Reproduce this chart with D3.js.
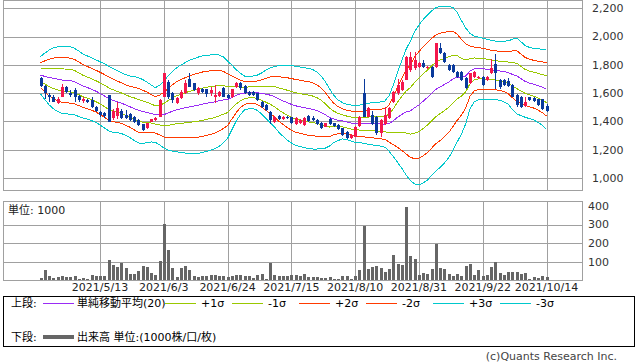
<!DOCTYPE html>
<html>
<head>
<meta charset="utf-8">
<script src="https://cdn.jsdelivr.net/npm/d3@7"></script>
<style>
body { margin: 0; background: #fff; }
text { font-family: "DejaVu Sans", "Noto Sans CJK JP", sans-serif; font-size: 11px; }
</style>
</head>
<body>
<div id="chart"></div>
<script>

// daily candles, 2021/4/19 .. 2021/10/14 (one entry per trading day)
var open = [1705,1651,1587,1575,1533,1575,1641,1603,1622,1580,
  1547,1549,1552,1504,1469,1462,1587,1427,1439,1475,
  1446,1453,1434,1410,1380,1356,1398,1410,1434,1575,
  1681,1603,1533,1564,1603,1698,1670,1599,1627,1627,
  1599,1571,1580,1634,1587,1571,1641,1670,1651,1610,
  1610,1599,1540,1516,1469,1398,1439,1417,1434,1429,
  1382,1387,1375,1439,1424,1410,1391,1363,1419,1387,
  1375,1351,1328,1281,1292,1368,1599,1434,1446,1434,
  1316,1382,1422,1540,1603,1622,1693,1764,1776,1787,
  1815,1776,1787,1787,1917,1886,1799,1799,1752,1752,
  1705,1670,1712,1705,1712,1693,1740,1804,1693,1693,
  1685,1658,1587,1575,1509,1571,1568,1557,1557,1509];

var high = [1712,1655,1599,1587,1575,1663,1648,1625,1634,1587,
  1575,1560,1575,1512,1476,1469,1590,1490,1540,1485,
  1480,1458,1440,1415,1385,1392,1420,1432,1560,1745,
  1690,1610,1575,1625,1690,1740,1675,1640,1635,1632,
  1640,1657,1615,1640,1595,1632,1680,1680,1658,1615,
  1612,1603,1545,1522,1475,1435,1445,1440,1438,1434,
  1430,1415,1428,1445,1440,1415,1398,1392,1425,1392,
  1380,1356,1335,1310,1368,1440,1700,1500,1475,1440,
  1420,1502,1500,1617,1700,1690,1865,1890,1890,1820,
  1835,1792,1795,1955,1958,1892,1805,1805,1760,1758,
  1712,1745,1758,1722,1718,1722,1840,1875,1700,1700,
  1705,1665,1592,1580,1575,1576,1572,1562,1562,1520];

var low = [1645,1557,1540,1535,1525,1570,1600,1575,1540,1540,
  1530,1530,1495,1470,1430,1425,1395,1410,1420,1415,
  1420,1405,1390,1370,1335,1350,1394,1405,1430,1570,
  1560,1530,1525,1560,1595,1640,1615,1590,1600,1570,
  1580,1530,1575,1570,1560,1565,1636,1625,1595,1582,
  1580,1545,1495,1476,1385,1390,1410,1410,1418,1380,
  1378,1382,1370,1398,1405,1375,1350,1358,1378,1363,
  1340,1298,1276,1276,1287,1363,1430,1430,1375,1305,
  1287,1378,1418,1533,1590,1615,1690,1750,1765,1780,
  1780,1770,1705,1780,1875,1815,1758,1745,1705,1688,
  1628,1665,1705,1698,1650,1688,1735,1630,1632,1650,
  1640,1570,1505,1495,1505,1548,1540,1510,1480,1470];

var close = [1651,1601,1571,1540,1559,1641,1610,1587,1575,1552,
  1559,1540,1504,1476,1446,1435,1398,1474,1493,1425,
  1427,1410,1398,1375,1340,1387,1416,1426,1552,1740,
  1575,1552,1564,1610,1670,1646,1622,1634,1610,1594,
  1622,1587,1610,1575,1564,1627,1670,1634,1603,1587,
  1587,1552,1504,1481,1410,1429,1415,1434,1424,1387,
  1422,1410,1422,1403,1410,1382,1356,1387,1382,1368,
  1344,1304,1281,1304,1363,1434,1434,1493,1382,1316,
  1410,1446,1493,1610,1658,1681,1858,1858,1834,1811,
  1787,1787,1712,1953,1882,1822,1764,1752,1712,1693,
  1634,1740,1752,1716,1658,1716,1776,1745,1641,1658,
  1650,1575,1516,1500,1540,1552,1545,1516,1486,1476];

// volume, unit 1000
var volume = [14,55,25,14,19,23,16,19,25,9,
  14,7,29,23,23,25,109,82,73,93,
  68,32,36,50,77,73,39,29,104,301,
  163,68,19,68,77,55,25,18,23,23,
  29,29,23,25,16,21,29,29,23,21,
  14,29,34,9,95,29,21,21,21,29,
  29,21,32,19,18,18,11,11,16,5,
  9,23,23,5,23,54,292,61,73,77,
  68,43,61,136,88,82,394,129,115,29,
  39,34,61,195,66,61,34,23,34,23,
  77,88,29,55,25,29,71,96,39,29,
  45,45,45,34,39,5,18,11,23,18];

// +3 sigma / -3 sigma of the 20 day band
var upper3 = [1859,1883,1904,1919,1928,1928,1928,1928,1917,1898,
  1877,1863,1850,1836,1822,1808,1791,1775,1760,1745,
  1731,1721,1717,1710,1697,1679,1658,1639,1656,1684,
  1721,1753,1779,1799,1815,1832,1843,1854,1863,1868,
  1870,1870,1870,1856,1827,1799,1767,1740,1721,1721,
  1721,1728,1743,1762,1779,1788,1794,1796,1797,1794,
  1790,1785,1779,1776,1767,1750,1721,1682,1629,1583,
  1552,1533,1521,1516,1516,1516,1519,1527,1533,1535,
  1538,1545,1583,1661,1750,1834,1912,1969,2036,2082,
  2121,2153,2181,2204,2214,2216,2214,2206,2170,2114,
  2061,2022,2004,1996,1989,1981,1973,1968,1964,1967,
  1970,1981,1990,1963,1937,1923,1917,1913,1911,1910];

var lower3 = [1594,1555,1518,1491,1470,1458,1455,1449,1446,1435,
  1424,1416,1406,1393,1375,1354,1334,1324,1320,1315,
  1302,1287,1266,1248,1244,1250,1255,1253,1235,1212,
  1198,1191,1186,1180,1177,1174,1175,1175,1179,1188,
  1197,1206,1224,1248,1280,1340,1400,1449,1481,1490,
  1492,1478,1453,1423,1393,1363,1325,1296,1269,1248,
  1231,1222,1215,1207,1205,1205,1207,1212,1226,1251,
  1265,1276,1272,1262,1253,1251,1246,1239,1234,1230,
  1226,1218,1188,1150,1110,1067,1021,980,958,951,
  965,986,1018,1050,1076,1106,1143,1195,1255,1311,
  1382,1488,1538,1552,1557,1557,1557,1555,1550,1539,
  1521,1484,1454,1441,1429,1420,1410,1393,1373,1344];

// x axis labels and the trading day they sit on
var xTickLabels = ["2021/5/13","2021/6/3","2021/6/24","2021/7/15","2021/8/10","2021/8/31","2021/9/22","2021/10/14"];
var xTickIndex = [14, 29, 44, 59, 74, 89, 104, 119];

var priceTicks = [1000, 1200, 1400, 1600, 1800, 2000, 2200];
var volTicks = [100, 200, 300, 400];
var volGrid = [100, 200, 300];

var bandK = [3, 2, 1, 0, -1, -2, -3];
var legendLabels = ["単純移動平均(20)", "+1σ", "-1σ", "+2σ", "-2σ", "+3σ", "-3σ"];
var legendK = [0, 1, -1, 2, -2, 3, -3];

// ---------------------------------------------------------------

var width = 638, height = 362;
var plot = {left: 3.5, right: 582.5, top: 0.5, bottom: 190.5};
var vol = {top: 201.5, bottom: 280.5};

var gridColor = "#a0a0a0",
    upColor = "#f4174c",
    downColor = "#0a3a9c";
var bandColor = function(k) {
  k = Math.abs(k);
  return k == 0 ? "#9a2cf5" : k == 1 ? "#99c800" : k == 2 ? "#ff3a00" : "#00c8cc";
};

var svg = d3.select("#chart")
  .append("svg")
    .attr("width", width)
    .attr("height", height);

var x = d3.scaleLinear()
  .domain([0, open.length - 1])
  .range([40.5, 546.5]);

var y = d3.scaleLinear()
  .domain([1000, 2200])
  .range([178, 8.3]);

var yv = d3.scaleLinear()
  .domain([0, 400])
  .range([280.3, 205.9]);

var px = function(v) { return Math.round(v) + 0.5; };

// grid - price panel
svg.append("g")
  .selectAll("line")
  .data(priceTicks)
  .enter().append("line")
    .attr("x1", plot.left).attr("x2", plot.right)
    .attr("y1", function(d) { return px(y(d)); })
    .attr("y2", function(d) { return px(y(d)); })
    .attr("stroke", gridColor);

// grid - volume panel
svg.append("g")
  .selectAll("line")
  .data(volGrid)
  .enter().append("line")
    .attr("x1", plot.left).attr("x2", plot.right)
    .attr("y1", function(d) { return px(yv(d)); })
    .attr("y2", function(d) { return px(yv(d)); })
    .attr("stroke", gridColor);

// vertical grid through both panels
[[plot.top, plot.bottom], [vol.top, vol.bottom]].forEach(function(r) {
  svg.append("g")
    .selectAll("line")
    .data(xTickIndex)
    .enter().append("line")
      .attr("x1", function(d) { return px(x(d)); })
      .attr("x2", function(d) { return px(x(d)); })
      .attr("y1", r[0]).attr("y2", r[1])
      .attr("stroke", gridColor);
});

// frames
svg.append("rect")
  .attr("x", plot.left).attr("y", plot.top)
  .attr("width", plot.right - plot.left).attr("height", plot.bottom - plot.top)
  .attr("fill", "none").attr("stroke", gridColor);
svg.append("rect")
  .attr("x", plot.left).attr("y", vol.top)
  .attr("width", plot.right - plot.left).attr("height", vol.bottom - vol.top)
  .attr("fill", "none").attr("stroke", gridColor);

// bollinger bands
var ma = upper3.map(function(u, i) { return (u + lower3[i]) / 2; });
var sd = upper3.map(function(u, i) { return (u - lower3[i]) / 6; });

var line = d3.line()
  .x(function(d, i) { return x(i); })
  .y(function(d) { return y(d); });

svg.append("g")
  .attr("shape-rendering", "crispEdges")
  .selectAll("path")
  .data(bandK)
  .enter().append("path")
    .attr("d", function(k) { return line(ma.map(function(m, i) { return m + k * sd[i]; })); })
    .attr("fill", "none")
    .attr("stroke", function(k) { return bandColor(k); })
    .attr("stroke-width", 1);

// candles
var candles = open.map(function(o, i) {
  return {i: i, o: o, h: high[i], l: low[i], c: close[i]};
});
var cg = svg.append("g").attr("shape-rendering", "crispEdges");

cg.selectAll("line")
  .data(candles)
  .enter().append("line")
    .attr("x1", function(d) { return px(x(d.i)); })
    .attr("x2", function(d) { return px(x(d.i)); })
    .attr("y1", function(d) { return y(d.h); })
    .attr("y2", function(d) { return y(d.l); })
    .attr("stroke", function(d) { return d.c >= d.o ? upColor : downColor; });

cg.selectAll("rect")
  .data(candles)
  .enter().append("rect")
    .attr("x", function(d) { return Math.round(x(d.i)) - 1; })
    .attr("width", 3)
    .attr("y", function(d) { return y(Math.max(d.o, d.c)); })
    .attr("height", function(d) { return Math.max(1, Math.abs(y(d.o) - y(d.c))); })
    .attr("fill", function(d) { return d.c >= d.o ? upColor : downColor; });

// volume bars
svg.append("g")
  .attr("shape-rendering", "crispEdges")
  .selectAll("rect")
  .data(volume)
  .enter().append("rect")
    .attr("x", function(d, i) { return Math.round(x(i)) - 1; })
    .attr("width", 3)
    .attr("y", function(d) { return yv(d); })
    .attr("height", function(d) { return yv(0) - yv(d); })
    .attr("fill", "#666666");

// axis labels
svg.append("g")
  .selectAll("text")
  .data(priceTicks)
  .enter().append("text")
    .attr("x", 592)
    .attr("y", function(d) { return y(d); })
    .attr("dy", "0.35em")
    .attr("fill", "#333")
    .text(d3.format(","));

svg.append("g")
  .selectAll("text")
  .data(volTicks)
  .enter().append("text")
    .attr("x", 588)
    .attr("y", function(d) { return yv(d); })
    .attr("dy", "0.35em")
    .attr("fill", "#333")
    .text(function(d) { return d; });

svg.append("g")
  .selectAll("text")
  .data(xTickLabels)
  .enter().append("text")
    .attr("x", function(d, i) { return x(xTickIndex[i]); })
    .attr("y", 291)
    .attr("text-anchor", "middle")
    .attr("fill", "#222")
    .text(function(d) { return d; });

svg.append("text")
  .attr("x", 8).attr("y", 210).attr("dy", "0.35em")
  .attr("fill", "#222")
  .text("単位: 1000");

// legend
svg.append("rect")
  .attr("x", 3.5).attr("y", 296.5)
  .attr("width", 631).attr("height", 50)
  .attr("fill", "none").attr("stroke", "#000");

var leg = svg.append("g");
var row1 = 303, row2 = 337;
leg.append("text").attr("x", 11).attr("y", row1).attr("dy", "0.35em").text("上段:");
leg.append("text").attr("x", 11).attr("y", row2).attr("dy", "0.35em").text("下段:");

var lineStart = function(j) { return j == 0 ? 43 : 165 + (j - 1) * 67; };
var textStart = function(j) { return j == 0 ? 77 : 201 + (j - 1) * 67; };

legendLabels.forEach(function(lab, j) {
  leg.append("line")
    .attr("x1", lineStart(j)).attr("x2", lineStart(j) + 31)
    .attr("y1", row1 + 0.5).attr("y2", row1 + 0.5)
    .attr("stroke", bandColor(legendK[j]));
  leg.append("text")
    .attr("x", textStart(j)).attr("y", row1).attr("dy", "0.35em")
    .text(lab);
});

leg.append("line")
  .attr("x1", 43).attr("x2", 74)
  .attr("y1", row2).attr("y2", row2)
  .attr("stroke", "#666").attr("stroke-width", 4);
leg.append("text").attr("x", 77).attr("y", row2).attr("dy", "0.35em").text("出来高 単位:(1000株/口/枚)");

svg.append("text")
  .attr("x", 617).attr("y", 356).attr("dy", "0.35em")
  .attr("text-anchor", "end")
  .attr("fill", "#444")
  .text("(c)Quants Research Inc.");

</script>
</body>
</html>
